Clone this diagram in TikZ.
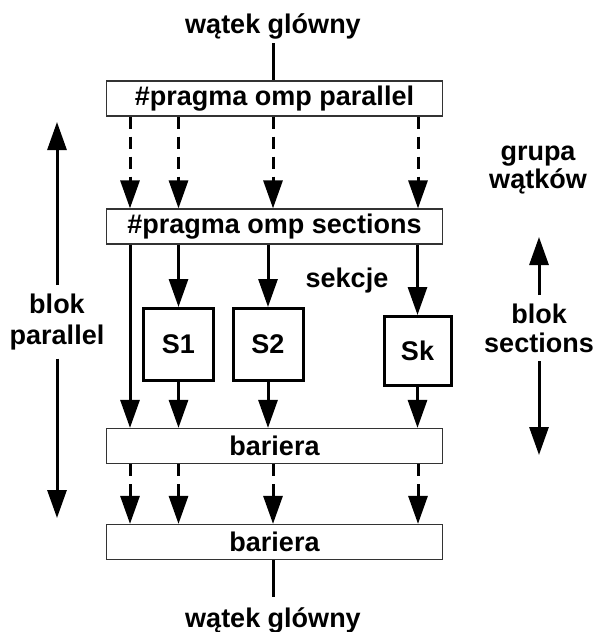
\documentclass[tikz,border=0pt]{standalone}
\usepackage{fontspec}
\setmainfont{Liberation Sans}
\usetikzlibrary{arrows.meta}
\begin{document}
\begin{tikzpicture}[x=1pt,y=-1pt,
  lbl/.style={font=\fontsize{27}{30}\selectfont\bfseries, align=center, inner sep=0pt},
  widebox/.style={lbl, draw=black!80, line width=1.2pt, minimum width=336pt, minimum height=35pt},
  secbox/.style={lbl, draw, line width=3pt, minimum width=70pt, minimum height=72pt},
  flow/.style={line width=3pt, -{Triangle[length=28pt,width=19pt]}},
  fork/.style={flow, dash pattern=on 12pt off 8pt},
  bar/.style={line width=3pt}]
\useasboundingbox (0,0) rectangle (594,632);

% thread columns
\coordinate (c1) at (130,0);
\coordinate (c2) at (178.5,0);
\coordinate (c3) at (273,0);
\coordinate (c4) at (418,0);

% main thread labels
\node[lbl, anchor=base, inner ysep=4.5pt] (mtop) at (273,33) {wątek glówny};
\node[lbl, anchor=base, inner ysep=10pt] (mbot) at (273,627) {wątek glówny};

% directive and barrier boxes
\node[widebox] (par) at (274.5,98.5) {\#pragma omp parallel};
\node[widebox] (sec) at (274.5,226.5) {\#pragma omp sections};
\node[widebox] (bar1) at (274.5,446) {bariera};
\node[widebox] (bar2) at (274.5,542) {bariera};

% sections
\node[secbox] (s1) at (178.5,344.5) {S1};
\node[secbox] (s2) at (268,344.5) {S2};
\node[secbox, minimum width=67pt, minimum height=69pt] (sk) at (417.5,351) {Sk};
\node[lbl, anchor=base] (sekcje) at (347,287) {sekcje};

% main thread in and out
\draw[bar] (mtop.south) -- (par.north -| mtop.south);
\draw[bar] (bar2.south -| mbot.north) -- (mbot.north);

% team of threads forked by parallel
\foreach \c in {c1,c2,c3,c4}
  \draw[fork] (par.south -| \c) -- (sec.north -| \c);

% work distributed by sections
\draw[flow] (sec.south -| c1) -- (bar1.north -| c1);
\draw[flow] (sec.south -| s1.north) -- (s1.north);
\draw[flow] (sec.south -| s2.north) -- (s2.north);
\draw[flow] (sec.south -| sk.north) -- (sk.north);
\draw[flow] (s1.south) -- (bar1.north -| s1.south);
\draw[flow] (s2.south) -- (bar1.north -| s2.south);
\draw[flow] (sk.south) -- (bar1.north -| sk.south);

% threads between the two barriers
\foreach \c in {c1,c2,c3,c4}
  \draw[fork] (bar1.south -| \c) -- (bar2.north -| \c);

% side annotations
\node[lbl, anchor=base] (grupa) at (538,160) {grupa};
\node[lbl, anchor=base] (watkow) at (538,188) {wątków};

\node[lbl, anchor=north, inner ysep=8.5pt, font=\fontsize{27}{31}\selectfont\bfseries] (bpar) at (57,285) {blok\\parallel};
\coordinate (bparTop) at (57,122);
\coordinate (bparBot) at (57,518);
\draw[flow] (bpar.north) -- (bparTop);
\draw[flow] (bpar.south) -- (bparBot);

\node[lbl, anchor=north, inner ysep=8.5pt, font=\fontsize{27}{29}\selectfont\bfseries] (bsec) at (539,295) {blok\\sections};
\coordinate (bsecTop) at (539,237);
\coordinate (bsecBot) at (539,455);
\draw[flow] (bsec.north) -- (bsecTop);
\draw[flow] (bsec.south) -- (bsecBot);
\end{tikzpicture}
\end{document}
